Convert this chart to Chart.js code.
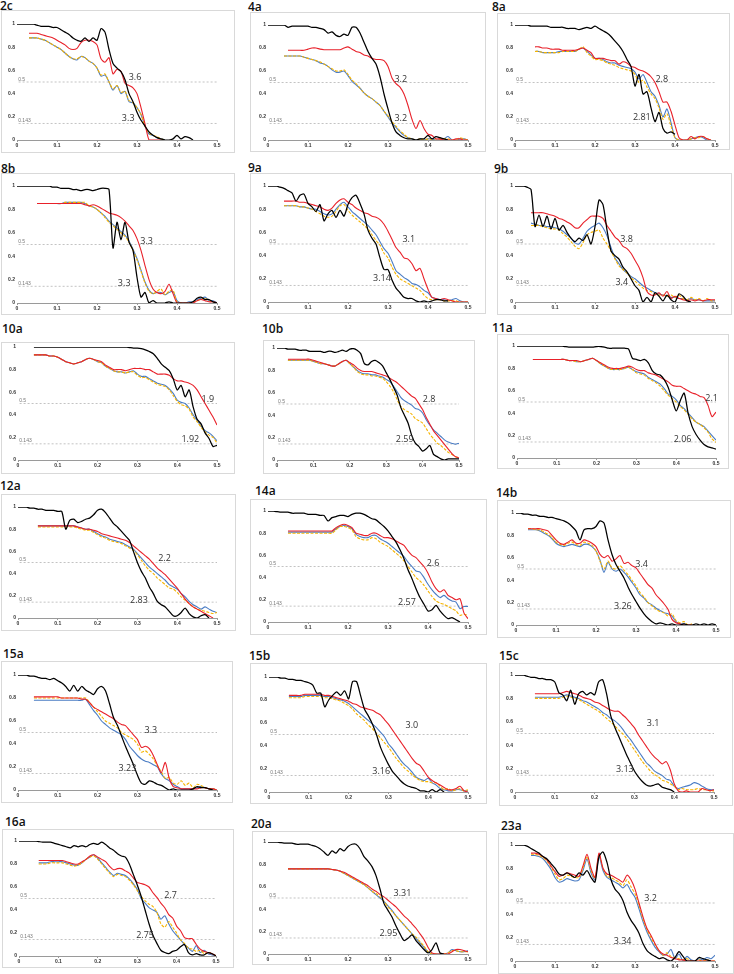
<!DOCTYPE html>
<html><head><meta charset="utf-8">
<script src="https://cdn.jsdelivr.net/npm/chart.js@4.4.0/dist/chart.umd.min.js"></script>
<style>
html,body{margin:0;padding:0;background:#fff;}
body{width:734px;height:974px;position:relative;overflow:hidden;}
.ttl{position:absolute;font:600 12px/12px "Open Sans",sans-serif;color:#111;white-space:nowrap;}
canvas{position:absolute;}
</style></head><body>
<script>
const _ = null;
const xGrid = [0,0.01,0.02,0.03,0.04,0.05,0.06,0.07,0.08,0.09,0.1,0.11,0.12,0.13,0.14,0.15,0.16,0.17,0.18,0.19,0.2,0.21,0.22,0.23,0.24,0.25,0.26,0.27,0.28,0.29,0.3,0.31,0.32,0.33,0.34,0.35,0.36,0.37,0.38,0.39,0.4,0.41,0.42,0.43,0.44,0.45,0.46,0.47,0.48,0.49,0.5];
const xTicks = [0,0.1,0.2,0.3,0.4,0.5];
const yTicks = [0,0.2,0.4,0.6,0.8,1];
const thresholds = [0.5, 0.143];

// 2c
const p2c_black = [1,1,1,1,1,.99,.98,.98,.98,.97, .97,.95,.93,.91,.88,.86,.85,.88,.85,.88, .86,.96,.93,.78,.66,.62,.59,.52,.40,.33, .24,.17,.12,.07,.04,.02,.01,0,0,.01, .04,.01,.03,.02,0,_,_,_,_,_,_];
const p2c_red = [_,_,_,.92,.92,.92,.91,.90,.89,.88, .86,.84,.82,.79,.78,.79,.84,.86,.86,.85, .82,.70,.67,.71,.57,.61,.59,.49,.47,.45, .40,.28,.14,0,0,0,0,_,_,_, _,_,_,_,_,_,_,_,_,_,_];
const p2c_blue = [_,_,_,.88,.88,.88,.87,.86,.84,.82, .80,.78,.75,.72,.70,.69,.72,.71,.68,.66, .62,.55,.56,.50,.43,.47,.40,.42,.33,.32, .28,.22,.12,.05,.04,.02,.01,0,_,_, _,_,_,_,_,_,_,_,_,_,_];
const p2c_yellow = [_,_,_,.88,.88,.88,.87,.86,.84,.82, .80,.78,.75,.72,.70,.70,.72,.71,.68,.66, .62,.56,.57,.50,.44,.47,.41,.42,.34,.32, .28,.22,.12,.06,.04,.03,.01,0,_,_, _,_,_,_,_,_,_,_,_,_,_];
// 4a
const p4a_black = [1,1,1,1,1,.98,.99,.99,.99,.99, .99,.98,.98,.97,.96,.93,.94,.91,.90,.92, .91,.98,.98,.93,.85,.77,.71,.66,.55,.40, .27,.15,.07,.04,.02,.01,.01,0,.01,.01, .04,.01,.03,.02,.01,0,_,_,_,_,_];
const p4a_red = [_,_,_,_,_,.78,.78,.78,.78,.78, .79,.80,.80,.79,.785,.785,.785,.785,.785,.80, .81,.79,.77,.76,.74,.73,.71,.70,.70,.69, .64,.54,.49,.46,.40,.30,.18,.10,.17,.10, .05,.04,.01,.01,0,0,0,.01,.01,0,0];
const p4a_blue = [_,_,_,_,.73,.73,.73,.73,.73,.72, .71,.70,.69,.67,.66,.64,.61,.59,.59,.60, .56,.51,.48,.45,.41,.38,.36,.33,.30,.25, .20,.15,.11,.07,.04,.02,.01,0,.01,0, .01,.01,0,0,.01,.03,0,0,.01,.01,0];
const p4a_yellow = [_,_,_,_,.73,.73,.73,.73,.73,.72, .71,.70,.69,.68,.66,.64,.62,.60,.60,.61, .57,.52,.49,.45,.41,.38,.36,.33,.30,.25, .21,.16,.12,.08,.05,.02,.01,0,.01,0, .01,0,0,.01,.01,.01,0,0,.02,.01,0];
// 8a
const p8a_black = [1,1,1,1,.99,.99,.99,.99,.99,.98, .98,.98,.98,.97,.97,.97,.96,.97,.98,.97, .99,.97,.95,.93,.90,.86,.82,.77,.70,.64, .47,.57,.40,.42,.28,.16,.24,.10,.06,.07, .05,_,_,_,_,_,_,_,_,_,_];
const p8a_red = [_,_,_,_,_,.81,.81,.80,.80,.79, .79,.79,.78,.78,.78,.78,.79,.80,.78,.76, .71,.71,.71,.70,.69,.69,.66,.68,.67,.64, .63,.61,.60,.58,.55,.50,.42,.33,.33,.25, .13,.02,0,0,.03,.01,.03,.03,.01,0,_];
const p8a_blue = [_,_,_,_,_,.77,.77,.76,.76,.76, .76,.77,.77,.77,.77,.77,.79,.80,.77,.74, .71,.71,.70,.68,.67,.67,.65,.64,.63,.62, .59,.53,.57,.50,.42,.38,.30,.20,.27,.15, .02,0,0,0,.01,.02,.03,.02,0,0,_];
const p8a_yellow = [_,_,_,_,_,.77,.77,.76,.76,.76, .76,.76,.77,.77,.77,.77,.79,.81,.76,.73, .70,.70,.69,.67,.66,.65,.63,.62,.61,.60, .57,.50,.52,.46,.40,.36,.28,.18,.23,.12, .02,0,0,0,.01,.02,.02,.03,.01,0,_];
// 8b
const p8b_black = [1,1,1,1,1,1,1,1,1,.99, .99,.98,.98,.98,.97,.97,.96,.97,.97,.96, .97,.98,.98,.97,.47,.69,.54,.69,.52,.45, .22,.05,.09,0,.02,0,0,0,.01,0, 0,0,0,0,.01,.04,.05,.03,.03,.01,0];
const p8b_red = [_,_,_,_,_,.85,.85,.85,.85,.85, .85,.85,.85,.85,.85,.85,.85,.84,.83,.84, .83,.81,.79,.77,.76,.75,.73,.70,.66,.62, .55,.45,.32,.20,.12,.09,.08,.10,.16,.08, 0,0,0,0,0,.02,.03,.02,.01,.01,0];
const p8b_blue = [_,_,_,_,_,.85,.85,.85,.85,.85, .85,.85,.86,.86,.86,.86,.86,.85,.83,.82, .80,.77,.74,.70,.67,.64,.61,.58,.53,.46, .38,.28,.18,.11,.08,.09,.09,.07,.09,.10, .02,0,0,.01,.01,.03,.04,.05,.02,.02,0];
const p8b_yellow = [_,_,_,_,_,.85,.85,.85,.85,.85, .85,.85,.86,.86,.86,.86,.86,.86,.83,.82, .80,.77,.73,.69,.66,.63,.60,.57,.52,.45, .37,.27,.17,.10,.08,.10,.12,.07,.10,.11, .01,0,0,0,.01,.02,.03,.04,.02,.01,0];
// 9a
const p9a_black = [1,1,1,.99,.98,.96,.94,.87,.92,.93, .85,.82,.78,.84,.70,.76,.79,.73,.79,.74, .84,.90,.92,.85,.76,.62,.55,.50,.38,.28, .28,.19,.12,.08,.04,.03,.03,.01,0,.01, 0,.01,.02,.02,.01,.01,_,_,_,_,_];
const p9a_red = [_,_,_,_,.87,.87,.87,.87,.86,.86, .85,.84,.83,.82,.80,.79,.81,.85,.88,.89, .86,.84,.81,.79,.77,.76,.74,.73,.71,.67, .61,.54,.47,.43,.38,.37,.33,.27,.29,.20, .11,.04,.03,.02,.03,.02,.01,0,0,0,0];
const p9a_blue = [_,_,_,_,.83,.83,.83,.83,.82,.82, .81,.80,.80,.78,.76,.75,.76,.80,.84,.86, .82,.78,.75,.72,.69,.66,.62,.58,.52,.46, .42,.35,.27,.24,.21,.19,.16,.15,.13,.10, .08,.04,.03,.02,.02,.01,.02,.03,.01,0,0];
const p9a_yellow = [_,_,_,_,.83,.83,.83,.83,.82,.82, .81,.80,.78,.76,.74,.73,.74,.78,.83,.84, .79,.75,.72,.69,.66,.63,.58,.53,.49,.42, .38,.30,.24,.20,.18,.16,.14,.12,.10,.06, .03,.02,.02,.02,.01,.01,.01,.01,0,0,0];
// 9b
const p9b_black = [1,1,1,.99,.97,.65,.75,.65,.74,.63, .72,.62,.66,.60,.55,.52,.55,.53,.58,.50, .65,.88,.84,.62,.44,.40,.37,.30,.26,.20, .14,.10,0,.04,0,.08,.05,.01,.06,.02, 0,.07,.05,.01,0,_,_,_,_,_,_];
const p9b_red = [_,_,_,_,.77,.77,.77,.77,.76,.75, .74,.72,.71,.69,.67,.64,.64,.68,.71,.74, .74,.74,.72,.66,.61,.56,.53,.48,.46,.42, .36,.30,.21,.09,.06,.06,.08,.05,.09,.03, .05,.03,.02,.01,.02,.01,.02,.01,.02,.02,.02];
const p9b_blue = [_,_,_,_,.68,.67,.66,.66,.65,.65, .64,.63,.61,.58,.55,.51,.50,.55,.61,.64, .66,.68,.64,.57,.47,.38,.33,.28,.25,.22, .20,.17,.14,.12,.10,.08,.07,.06,.05,.04, .04,.03,.03,.02,.03,.02,.02,.01,.01,.01,.01];
const p9b_yellow = [_,_,_,_,.66,.66,.66,.65,.64,.63, .63,.62,.59,.56,.52,.48,.46,.51,.58,.60, .61,.62,.55,.50,.44,.37,.31,.28,.25,.21, .18,.15,.12,.10,.09,.07,.06,.06,.05,.06, .04,.06,.03,.02,.04,.02,.03,.01,.03,.01,.01];
// 10a
const p10a_black = [_,_,_,_,1,1,1,1,1,1, 1,1,1,1,1,1,1,1,1,1, 1,1,1,1,1,1,1,1,.995,.99, .99,.985,.975,.96,.94,.90,.85,.82,.79,.72, .62,.66,.56,.62,.47,.36,.32,.24,.19,.12,.13];
const p10a_red = [_,_,_,_,.93,.93,.93,.93,.92,.92, .91,.89,.87,.86,.85,.86,.87,.89,.90,.89, .88,.87,.84,.82,.80,.80,.80,.79,.80,.81, .81,.81,.80,.80,.78,.76,.76,.76,.75,.72, .70,.70,.69,.68,.66,.62,.56,.50,.44,.38,.31];
const p10a_blue = [_,_,_,_,.93,.93,.93,.93,.92,.92, .91,.89,.87,.86,.85,.86,.87,.89,.90,.89, .87,.86,.83,.81,.79,.78,.78,.77,.78,.79, .76,.74,.74,.72,.70,.68,.67,.66,.63,.59, .53,.51,.50,.46,.40,.35,.30,.26,.24,.21,.17];
const p10a_yellow = [_,_,_,_,.93,.93,.93,.93,.92,.92, .91,.89,.87,.86,.85,.86,.87,.89,.90,.89, .87,.86,.83,.81,.79,.78,.78,.77,.78,.78, .75,.73,.73,.71,.69,.67,.66,.65,.62,.57, .52,.49,.48,.45,.38,.34,.29,.25,.22,.20,.15];
// 10b
const p10b_black = [1,1,1,.99,.99,.99,.98,.98,.98,.97, .97,.97,.97,.96,.97,.97,.96,.97,.98,.97, .99,.995,.98,.95,.86,.85,.88,.89,.87,.84, .78,.72,.65,.58,.47,.40,.33,.22,.15,.12, .08,.10,.13,.05,.03,.01,0,.01,.01,.01,.01];
const p10b_red = [_,_,_,.90,.90,.90,.90,.90,.90,.90, .89,.88,.87,.86,.85,.84,.84,.86,.88,.89, .87,.85,.82,.80,.79,.79,.79,.78,.77,.76, .75,.73,.71,.69,.66,.63,.60,.57,.55,.50, .45,.38,.32,.26,.22,.18,.14,.10,.06,.03,.02];
const p10b_blue = [_,_,_,.89,.89,.89,.89,.89,.89,.89, .88,.87,.86,.86,.85,.84,.84,.86,.88,.89, .86,.83,.80,.78,.77,.77,.76,.76,.75,.74, .72,.70,.66,.61,.56,.53,.51,.49,.46,.45, .42,.36,.31,.27,.24,.21,.18,.16,.15,.14,.15];
const p10b_yellow = [_,_,_,.89,.89,.89,.89,.89,.89,.89, .88,.87,.86,.86,.85,.84,.84,.86,.88,.89, .86,.83,.79,.77,.76,.76,.75,.75,.74,.73, .70,.66,.61,.54,.48,.45,.43,.41,.37,.35, .33,.28,.23,.19,.15,.13,.10,.07,.05,.03,.02];
// 11a
const p11a_black = [1,1,1,1,1,1,1,1,1,1, 1,1,.995,.99,.99,.99,.99,.99,.99,.99, .995,.995,.99,.98,.98,.98,.98,.98,.975,.89, .88,.87,.88,.85,.78,.75,.74,.70,.63,.52, .42,.51,.58,.40,.28,.21,.16,.12,.10,.09,.08];
const p11a_red = [_,_,_,_,.88,.88,.88,.88,.88,.88, .88,.88,.88,.87,.87,.87,.86,.87,.88,.89, .87,.85,.83,.81,.80,.80,.80,.81,.82,.81, .79,.78,.78,.76,.75,.74,.72,.70,.68,.65, .64,.64,.62,.60,.58,.57,.55,.54,.47,.37,.41];
const p11a_blue = [_,_,_,_,.88,.88,.88,.88,.88,.88, .88,.88,.88,.87,.87,.86,.86,.87,.88,.89, .87,.84,.82,.80,.79,.79,.79,.80,.81,.79, .77,.76,.75,.72,.70,.68,.66,.62,.57,.55, .52,.47,.44,.40,.36,.32,.30,.28,.24,.20,.16];
const p11a_yellow = [_,_,_,_,.88,.88,.88,.88,.88,.88, .88,.88,.88,.87,.87,.86,.86,.87,.88,.89, .87,.84,.82,.80,.79,.79,.79,.80,.81,.79, .76,.75,.74,.71,.69,.67,.64,.60,.56,.53, .50,.46,.43,.39,.35,.32,.30,.27,.23,.17,.14];
// 12a
const p12a_black = [1,1,1,.99,.99,.98,.98,.97,.97,.97, .96,.96,.80,.88,.89,.86,.87,.89,.90,.93, .97,.98,.95,.90,.85,.82,.78,.74,.70,.60, .50,.42,.36,.28,.22,.15,.12,.10,.06,.02, .02,.05,.09,.04,.01,0,.02,.03,0,_,_];
const p12a_red = [_,_,_,_,_,.83,.83,.83,.83,.83, .83,.83,.83,.83,.83,.82,.81,.80,.80,.79, .78,.76,.75,.74,.73,.72,.71,.70,.68,.65, .62,.59,.56,.53,.49,.45,.42,.39,.35,.31, .27,.22,.17,.13,.10,.08,.06,.04,.02,0,_];
const p12a_blue = [_,_,_,_,_,.83,.83,.83,.83,.83, .83,.83,.83,.83,.83,.82,.81,.80,.80,.78, .76,.74,.73,.71,.70,.69,.68,.66,.64,.62, .58,.54,.50,.46,.43,.40,.37,.34,.30,.28, .26,.22,.19,.15,.12,.10,.08,.10,.08,.06,.05];
const p12a_yellow = [_,_,_,_,_,.82,.82,.82,.82,.82, .82,.82,.82,.82,.82,.81,.80,.79,.79,.77, .75,.73,.72,.70,.69,.68,.67,.65,.63,.61, .57,.52,.47,.43,.40,.36,.33,.30,.27,.26, .23,.19,.16,.13,.10,.08,.07,.06,.05,.04,.05];
// 14a
const p14a_black = [1,1,.995,.99,.99,.99,.98,.98,.98,.98, .97,.97,.97,.96,.96,.91,.94,.95,.96,.96, .95,.97,.98,.98,.97,.95,.93,.92,.89,.86, .82,.77,.72,.65,.57,.47,.39,.30,.22,.16, .10,.11,.15,.10,.06,.03,.04,.02,0,_,_];
const p14a_red = [_,_,_,_,_,.82,.82,.82,.82,.82, .82,.82,.82,.82,.82,.82,.82,.85,.87,.88, .87,.85,.80,.79,.78,.78,.80,.80,.78,.76, .76,.75,.73,.71,.69,.64,.60,.58,.54,.50, .44,.36,.30,.27,.29,.24,.22,.20,.21,.08,.03];
const p14a_blue = [_,_,_,_,_,.81,.81,.81,.81,.81, .81,.81,.81,.81,.81,.81,.81,.84,.86,.87, .86,.84,.79,.77,.76,.76,.78,.78,.75,.73, .71,.68,.65,.62,.59,.54,.50,.46,.45,.40, .34,.29,.25,.22,.24,.21,.19,.18,.12,.14,.14];
const p14a_yellow = [_,_,_,_,_,.80,.80,.80,.80,.80, .80,.80,.80,.80,.80,.80,.80,.83,.86,.86, .85,.83,.77,.75,.74,.74,.76,.75,.72,.70, .68,.65,.62,.59,.55,.50,.45,.40,.37,.33, .28,.23,.19,.17,.16,.14,.12,.10,.06,.07,.06];
// 14b
const p14b_black = [1,1,.99,.99,.98,.98,.97,.97,.96,.96, .95,.94,.93,.91,.88,.84,.76,.85,.86,.86, .88,.93,.91,.76,.63,.54,.48,.42,.34,.27, .21,.15,.10,.06,.03,.01,.02,.01,0,.01, 0,0,.01,0,0,.01,0,.01,0,.01,0];
const p14b_red = [_,_,_,.86,.86,.86,.86,.85,.84,.80, .76,.73,.72,.74,.76,.73,.73,.76,.75,.73, .70,.63,.60,.62,.57,.59,.62,.55,.56,.53, .51,.46,.41,.36,.33,.27,.23,.19,.14,.05, .02,.01,0,0,0,_,_,_,_,_,_];
const p14b_blue = [_,_,_,.85,.85,.85,.84,.82,.80,.77, .73,.71,.70,.71,.72,.71,.70,.72,.72,.70, .66,.58,.47,.56,.50,.48,.50,.47,.43,.38, .33,.27,.24,.20,.18,.15,.13,.11,.10,.08, .03,.01,.01,0,0,_,_,_,_,_,_];
const p14b_yellow = [_,_,_,.86,.86,.85,.85,.83,.81,.78, .74,.72,.71,.73,.74,.72,.71,.74,.73,.71, .66,.57,.50,.57,.51,.50,.53,.49,.45,.40, .35,.29,.25,.20,.17,.14,.12,.11,.08,.10, .04,.02,.03,0,.01,_,_,_,_,_,_];
// 15a
const p15a_black = [1,1,1,.99,.99,.98,.97,.97,.96,.97, .95,.93,.90,.86,.91,.86,.90,.87,.85,.83, .88,.90,.86,.75,.63,.56,.47,.38,.30,.22, .13,.06,.05,.08,.07,.05,.04,.02,0,.01, 0,0,0,0,.01,.03,.02,.02,.01,0,_];
const p15a_red = [_,_,_,_,.81,.81,.81,.81,.81,.81, .81,.80,.80,.80,.80,.80,.79,.79,.76,.72, .70,.68,.66,.64,.62,.59,.57,.56,.52,.48, .44,.37,.38,.36,.30,.22,.15,.24,.10,.03, .02,.01,.01,.01,.01,.01,.02,.02,.01,.01,0];
const p15a_blue = [_,_,_,_,.78,.78,.78,.78,.78,.78, .78,.78,.78,.78,.78,.78,.78,.79,.74,.69, .65,.60,.57,.54,.52,.50,.48,.44,.38,.34, .30,.27,.25,.24,.22,.20,.14,.10,.08,.05, .03,.01,.01,.01,.01,.02,.03,.02,.01,.01,0];
const p15a_yellow = [_,_,_,_,.80,.80,.80,.80,.80,.80, .80,.80,.80,.80,.80,.80,.80,.80,.76,.72, .68,.64,.60,.58,.56,.54,.50,.48,.46,.44, .40,.33,.34,.31,.27,.21,.16,.10,.11,.06, .05,.08,.04,.06,.02,.05,.04,.02,.01,.01,0];
// 15b
const p15b_black = [1,1,1,.99,.99,.98,.98,.97,.97,.96, .95,.93,.86,.86,.74,.80,.84,.87,.84,.88, .81,.96,.96,.84,.72,.66,.59,.50,.39,.31, .24,.18,.14,.10,.07,.05,.04,.03,.01,.01, 0,.02,0,.02,0,_,_,_,_,_,_];
const p15b_red = [_,_,_,_,_,.84,.84,.84,.84,.85, .85,.85,.85,.85,.84,.84,.83,.82,.81,.80, .79,.77,.76,.74,.73,.72,.71,.69,.67,.63, .59,.54,.49,.44,.39,.34,.29,.25,.23,.18, .13,.10,.08,.06,.04,.02,.02,.03,.05,.01,0];
const p15b_blue = [_,_,_,_,_,.83,.83,.83,.83,.84, .84,.84,.84,.84,.83,.83,.82,.81,.80,.79, .77,.74,.71,.68,.65,.62,.59,.56,.52,.48, .42,.38,.33,.28,.24,.21,.17,.13,.11,.10, .12,.08,.06,.03,.02,.01,.01,.02,.02,.01,.01];
const p15b_yellow = [_,_,_,_,_,.82,.82,.82,.82,.83, .83,.83,.83,.83,.82,.82,.81,.80,.79,.77, .75,.72,.68,.65,.62,.58,.55,.51,.47,.43, .39,.34,.29,.25,.21,.18,.15,.12,.10,.09, .09,.08,.08,.05,.02,.03,.01,.02,.03,.01,.02];
// 15c
const p15c_black = [1,1,1,.99,.98,.98,.97,.97,.96,.96, .94,.85,.83,.78,.87,.75,.84,.86,.83,.85, .83,.94,.96,.84,.66,.56,.48,.40,.32,.25, .18,.13,.09,.06,.05,.06,.07,.04,.03,.02, 0,_,_,_,_,_,_,_,_,_,_];
const p15c_red = [_,_,_,_,_,.84,.84,.84,.84,.84, .84,.84,.85,.86,.85,.84,.83,.81,.80,.79, .77,.76,.74,.72,.70,.69,.69,.66,.63,.59, .55,.49,.44,.39,.34,.30,.27,.24,.26,.19, .07,.01,0,.01,0,0,0,.03,.02,.01,.02];
const p15c_blue = [_,_,_,_,_,.81,.81,.81,.81,.81, .81,.81,.82,.83,.82,.81,.80,.78,.77,.75, .73,.71,.68,.66,.63,.61,.58,.54,.49,.45, .40,.35,.30,.25,.22,.18,.16,.14,.11,.10, .05,.03,.04,.05,.06,.08,.07,.05,.03,.02,.02];
const p15c_yellow = [_,_,_,_,_,.80,.80,.80,.80,.80, .80,.80,.81,.82,.81,.80,.79,.77,.75,.73, .71,.69,.66,.63,.60,.57,.53,.50,.46,.41, .36,.31,.26,.22,.18,.15,.13,.10,.09,.07, .05,.02,.03,.02,.02,.02,.03,.02,.02,.01,.01];
// 16a
const p16a_black = [1,1,1,1,1,.995,.99,.99,.99,.98, .97,.96,.95,.94,.96,.95,.96,.95,.97,.98, .97,.99,.97,.94,.92,.89,.87,.86,.80,.71, .62,.52,.40,.28,.18,.11,.05,.03,.02,.04, .05,.08,.10,.03,.01,.02,.01,.01,.03,.02,0];
const p16a_red = [_,_,_,_,_,.83,.83,.83,.83,.83, .83,.83,.82,.81,.80,.80,.82,.84,.87,.88, .86,.84,.82,.78,.75,.76,.76,.74,.72,.68, .64,.63,.62,.60,.55,.51,.46,.42,.36,.33, .26,.22,.16,.15,.15,.10,.06,.04,.03,.02,0];
const p16a_blue = [_,_,_,_,_,.81,.81,.81,.82,.82, .82,.82,.81,.80,.79,.79,.81,.84,.86,.88, .85,.81,.77,.73,.70,.72,.71,.70,.67,.63, .58,.50,.46,.42,.40,.38,.32,.35,.28,.22, .18,.14,.10,.07,.04,.09,.03,.05,.02,.01,0];
const p16a_yellow = [_,_,_,_,_,.80,.80,.80,.81,.81, .81,.81,.80,.79,.78,.79,.81,.84,.86,.87, .84,.80,.76,.72,.69,.71,.70,.69,.66,.62, .57,.52,.48,.45,.43,.38,.28,.25,.30,.25, .20,.14,.11,.07,.06,.04,.05,.02,.03,.02,0];
// 20a
const p20a_black = [1,1,1,.995,.99,.99,.99,.98,.98,.98, .98,.97,.96,.94,.91,.88,.92,.90,.94,.92, .96,.98,.98,.94,.87,.83,.78,.70,.58,.45, .39,.33,.25,.18,.12,.14,.17,.12,.08,.04, .01,.04,.10,.01,0,_,_,_,_,_,_];
const p20a_red = [_,_,_,_,_,.76,.76,.76,.76,.76, .76,.76,.76,.76,.76,.76,.755,.75,.74,.73, .71,.69,.67,.65,.63,.61,.58,.56,.53,.51, .48,.45,.42,.38,.34,.31,.27,.23,.18,.13, .06,.01,0,0,0,0,.02,.04,.04,.03,.02];
const p20a_blue = [_,_,_,_,_,.76,.76,.76,.76,.76, .76,.76,.76,.76,.76,.76,.755,.75,.74,.72, .70,.68,.66,.64,.62,.59,.56,.53,.50,.47, .43,.39,.34,.30,.26,.22,.18,.14,.10,.06, .02,0,0,0,0,.01,.04,.03,.02,.02,.03];
const p20a_yellow = [_,_,_,_,_,.76,.76,.76,.76,.76, .76,.76,.76,.76,.76,.76,.755,.75,.74,.72, .70,.68,.66,.64,.62,.59,.56,.54,.51,.47, .42,.38,.34,.30,.26,.22,.18,.15,.11,.07, .02,0,0,0,0,.01,.03,.03,.02,.02,.02];
// 23a
const p23a_black = [1,1,1,.99,.97,.95,.93,.90,.88,.84, .80,.75,.74,.76,.74,.72,.76,.74,.78,.72, .68,.90,.94,.85,.70,.62,.58,.52,.42,.35, .30,.24,.15,.09,.06,.04,.02,.03,.01,0, .03,.08,.04,0,0,0,.03,.02,.01,0,_];
const p23a_red = [_,_,_,_,.93,.93,.92,.90,.87,.82, .77,.73,.74,.76,.75,.74,.73,.82,.92,.80, .72,.93,.80,.75,.74,.72,.70,.68,.74,.70, .62,.50,.38,.28,.22,.15,.09,.06,.05,.03, .02,.01,.01,0,0,0,0,0,0,0,0];
const p23a_blue = [_,_,_,_,.91,.91,.90,.88,.84,.79, .72,.68,.69,.71,.70,.69,.70,.78,.88,.76, .70,.90,.78,.72,.70,.68,.66,.63,.66,.60, .55,.45,.34,.25,.18,.12,.08,.05,.06,.10, .02,.06,0,.04,.01,0,.02,.01,.03,.02,.05];
const p23a_yellow = [_,_,_,_,.92,.92,.91,.89,.86,.81, .75,.70,.71,.74,.73,.72,.72,.80,.90,.78, .71,.92,.80,.73,.72,.70,.68,.65,.70,.64, .58,.48,.36,.27,.20,.14,.09,.05,.07,.04, .03,.02,.01,.02,0,0,.01,0,.01,0,0];

// panel layout: title pos, border box [L,T,R,B], plot [x0,x05,y1,y0], resolution labels
const panels = [
 {id:'2c', s:[p2c_black,p2c_red,p2c_yellow,p2c_blue], title:[0,2], box:[1,10,235,153], plot:[17,217,24,140], res:[['3.6',0.295,0.54],['3.3',0.278,0.19]]},
 {id:'4a', s:[p4a_black,p4a_red,p4a_yellow,p4a_blue], title:[248,3], box:[250,12,486,152], plot:[268,468,25,140], res:[['3.2',0.332,0.53],['3.2',0.332,0.19]]},
 {id:'8a', s:[p8a_black,p8a_red,p8a_yellow,p8a_blue], title:[492,3], box:[497,13,730,150], plot:[515,715,25,140], res:[['2.8',0.367,0.53],['2.81',0.317,0.20]]},
 {id:'8b', s:[p8b_black,p8b_red,p8b_yellow,p8b_blue], title:[1,165], box:[1,173,235,315], plot:[17,217,186,303], res:[['3.3',0.324,0.53],['3.3',0.268,0.17]]},
 {id:'9a', s:[p9a_black,p9a_red,p9a_yellow,p9a_blue], title:[248,164], box:[250,173,486,314], plot:[268,468,186,302], res:[['3.1',0.352,0.54],['3.14',0.285,0.20]]},
 {id:'9b', s:[p9b_black,p9b_red,p9b_yellow,p9b_blue], title:[494,165], box:[497,173,732,315], plot:[515,715,186,302], res:[['3.8',0.279,0.54],['3.4',0.267,0.17]]},
 {id:'10a', s:[p10a_black,p10a_red,p10a_yellow,p10a_blue], title:[2,325], box:[1,342,235,474], plot:[18,217,347,460], res:[['1.9',0.477,0.54],['1.92',0.433,0.18]]},
 {id:'10b', s:[p10b_black,p10b_red,p10b_yellow,p10b_blue], title:[262,325], box:[263,340,475,474], plot:[277,459,348,460], res:[['2.8',0.418,0.54],['2.59',0.351,0.18]]},
 {id:'11a', s:[p11a_black,p11a_red,p11a_yellow,p11a_blue], title:[492,324], box:[497,334,729,469], plot:[517,716,346,458], res:[['2.1',0.489,0.53],['2.06',0.416,0.17]]},
 {id:'12a', s:[p12a_black,p12a_red,p12a_yellow,p12a_blue], title:[0,482], box:[1,494,236,631], plot:[18,217,507,618], res:[['2.2',0.368,0.54],['2.83',0.304,0.16]]},
 {id:'14a', s:[p14a_black,p14a_red,p14a_yellow,p14a_blue], title:[255,487], box:[250,499,487,635], plot:[268,468,511,622], res:[['2.6',0.4125,0.53],['2.57',0.3475,0.18]]},
 {id:'14b', s:[p14b_black,p14b_red,p14b_yellow,p14b_blue], title:[496,489], box:[497,500,731,638], plot:[516,716,513,625], res:[['3.4',0.314,0.54],['3.26',0.267,0.17]]},
 {id:'15a', s:[p15a_black,p15a_red,p15a_yellow,p15a_blue], title:[3,650], box:[1,661,233,803], plot:[18,217,675,790], res:[['3.3',0.334,0.52],['3.23',0.275,0.19]]},
 {id:'15b', s:[p15b_black,p15b_red,p15b_yellow,p15b_blue], title:[249,652], box:[250,663,487,804], plot:[269,468,677,792], res:[['3.0',0.359,0.58],['3.16',0.282,0.18]]},
 {id:'15c', s:[p15c_black,p15c_red,p15c_yellow,p15c_blue], title:[499,652], box:[499,663,733,806], plot:[515,714,675,792], res:[['3.1',0.347,0.59],['3.13',0.276,0.19]]},
 {id:'16a', s:[p16a_black,p16a_red,p16a_yellow,p16a_blue], title:[5,818], box:[2,829,234,968], plot:[19,216,841,956], res:[['2.7',0.385,0.53],['2.75',0.32,0.18]]},
 {id:'20a', s:[p20a_black,p20a_red,p20a_yellow,p20a_blue], title:[251,820], box:[252,831,487,965], plot:[268,468,842,954], res:[['3.31',0.336,0.54],['2.95',0.301,0.18]]},
 {id:'23a', s:[p23a_black,p23a_red,p23a_yellow,p23a_blue], title:[501,822], box:[498,833,734,974], plot:[515,715,845,961], res:[['3.2',0.339,0.54],['3.34',0.269,0.17]]}
];

const seriesStyle = [
  {color:'#000000', dash:[], w:1.25},
  {color:'#e8212a', dash:[], w:1.1},
  {color:'#f6b400', dash:[3,1.5], w:1.1},
  {color:'#4a7cc4', dash:[], w:1.1}
];

Chart.defaults.font.family = '"Liberation Sans", Arial, sans-serif';

const decor = {
  id:'decor',
  beforeDraw(chart){
    const c = chart.ctx; c.save();
    c.strokeStyle = '#d9d9d9'; c.lineWidth = 1;
    c.strokeRect(0.5,0.5,chart.width-1,chart.height-1);
    c.restore();
  },
  afterDatasetsDraw(chart, args, opts){
    const c = chart.ctx, xs = chart.scales.x, ys = chart.scales.y;
    c.save();
    c.fillStyle = '#777'; c.font = '5px "Liberation Sans", sans-serif';
    c.textAlign = 'left'; c.textBaseline = 'alphabetic';
    thresholds.forEach(t => c.fillText(String(t), xs.getPixelForValue(0.003), ys.getPixelForValue(t) - 1.5));
    c.fillStyle = '#333'; c.font = '9px "Open Sans", sans-serif';
    c.textAlign = 'center'; c.textBaseline = 'middle';
    (opts.res || []).forEach(r => c.fillText(r[0], xs.getPixelForValue(r[1]), ys.getPixelForValue(r[2])));
    c.restore();
  }
};

const WY = 14, HX = 10;
const toPts = arr => xGrid.map((x,i) => ({x:x, y:arr[i]}));
const fmt = v => String(Math.round(v * 10) / 10);

panels.forEach(p => {
  const [L,T,R,B] = p.box, [x0,x5,y1,y0] = p.plot;
  const t = document.createElement('div');
  t.className = 'ttl'; t.textContent = p.id;
  t.style.left = p.title[0] + 'px'; t.style.top = (p.title[1] - 2) + 'px';
  document.body.appendChild(t);
  const cv = document.createElement('canvas');
  cv.width = R - L; cv.height = B - T;
  cv.style.left = L + 'px'; cv.style.top = T + 'px';
  cv.style.width = (R - L) + 'px'; cv.style.height = (B - T) + 'px';
  document.body.appendChild(cv);
  const datasets = p.s.map((arr,k) => ({
    data: toPts(arr), borderColor: seriesStyle[k].color, borderDash: seriesStyle[k].dash,
    borderWidth: seriesStyle[k].w, pointRadius: 0, tension: 0.25, spanGaps: false, fill: false
  }));
  thresholds.forEach(tv => datasets.push({
    data: [{x:0.004,y:tv},{x:0.5,y:tv}], borderColor:'#bdbdbd', borderDash:[2,2],
    borderWidth: 0.9, pointRadius: 0, tension: 0, fill: false
  }));
  new Chart(cv, {
    type: 'line',
    data: { datasets },
    options: {
      responsive: false, animation: false, devicePixelRatio: 1,
      layout: { padding: { left: (x0 - L) - WY, right: R - x5, top: y1 - T, bottom: B - y0 - HX } },
      plugins: { legend: {display:false}, tooltip: {enabled:false}, decor: { res: p.res } },
      scales: {
        x: { type:'linear', min:0, max:0.5, afterFit: s => { s.height = HX; },
             afterBuildTicks: s => { s.ticks = xTicks.map(v => ({value:v})); },
             ticks: { font:{size:5, weight:'bold'}, color:'#333', padding:1, maxRotation:0, autoSkip:false, callback: fmt },
             grid: { drawOnChartArea:false, drawTicks:true, tickLength:2, color:'#9a9a9a' },
             border: { color:'#9a9a9a', width:1 } },
        y: { min:0, max:1, afterFit: s => { s.width = WY; },
             afterBuildTicks: s => { s.ticks = yTicks.map(v => ({value:v})); },
             ticks: { font:{size:5, weight:'bold'}, color:'#333', padding:2, autoSkip:false, callback: fmt },
             grid: { display:false, drawTicks:false }, border: { display:false } }
      }
    },
    plugins: [decor]
  });
});
</script>
</body></html>
